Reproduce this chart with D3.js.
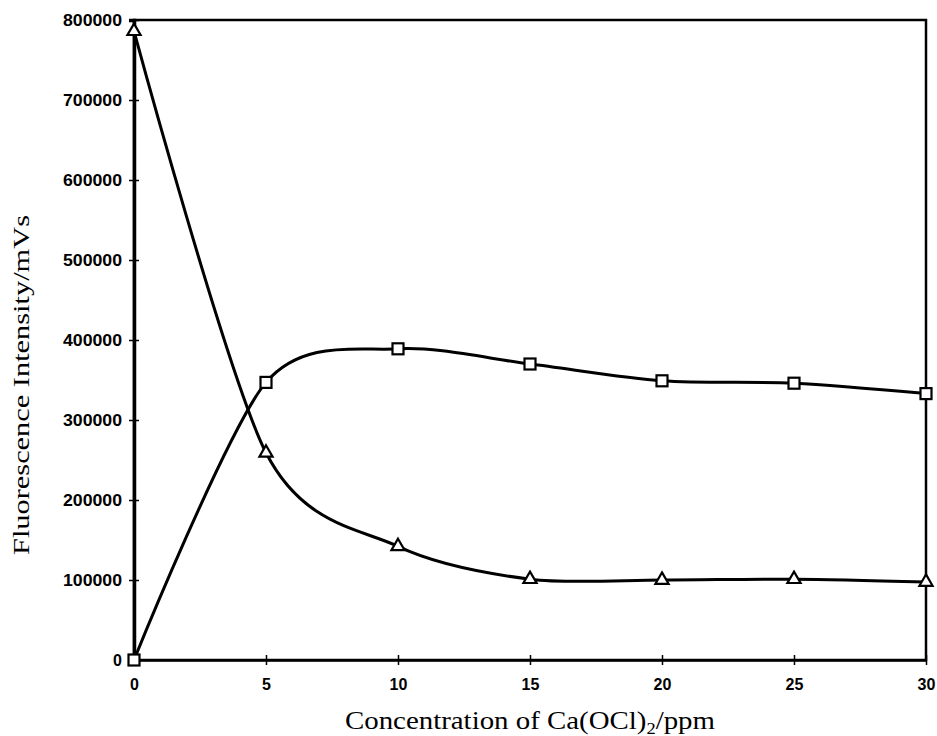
<!DOCTYPE html>
<html>
<head>
<meta charset="utf-8">
<script src="https://cdn.jsdelivr.net/npm/d3@7"></script>
<style>
  html, body { margin: 0; padding: 0; background: #fff; }
  svg { display: block; }
</style>
</head>
<body>
<svg id="chart" width="937" height="736"></svg>
<script>
// Concentration of Ca(OCl)2 (ppm)
const concentration = [0, 5, 10, 15, 20, 25, 30];
// Fluorescence intensity (mVs) for the two species
const squareSeries = [0, 347000, 389000, 370000, 349000, 346000, 333000];
const triangleSeries = [786000, 259000, 142000, 101000, 100000, 101000, 97500];
// Axis ticks
const xTickValues = [0, 5, 10, 15, 20, 25, 30];
const yTickValues = [0, 100000, 200000, 300000, 400000, 500000, 600000, 700000, 800000];

const svg = d3.select("#chart");
const plotLeft = 134, plotRight = 926, plotTop = 20, plotBottom = 660;

const x = d3.scaleLinear().domain([0, 30]).range([plotLeft, plotRight]);
const y = d3.scaleLinear().domain([0, 800000]).range([plotBottom, plotTop]);

// Plot frame
svg.append("rect")
  .attr("x", plotLeft).attr("y", plotTop)
  .attr("width", plotRight - plotLeft).attr("height", plotBottom - plotTop)
  .attr("fill", "none").attr("stroke", "#000").attr("stroke-width", 2.5);

const tickFont = "Liberation Sans, Arial, sans-serif";

// Y axis: ticks crossing the axis line, bold sans labels
const yAxis = d3.axisLeft(y).tickValues(yTickValues).tickSize(5).tickPadding(7)
  .tickFormat(d3.format("d"));
const gy = svg.append("g").attr("transform", `translate(${plotLeft},0)`).call(yAxis);
gy.select(".domain").attr("stroke-width", 3.5);
gy.selectAll(".tick line").attr("x2", 5).attr("x1", -5).attr("stroke-width", 1.5);
gy.selectAll(".tick text")
  .attr("font-family", tickFont)
  .attr("font-weight", "bold")
  .attr("font-size", 16)
  .attr("fill", "#000")
  .attr("dy", "0.36em")
  .attr("textLength", 59)
  .attr("lengthAdjust", "spacingAndGlyphs");
gy.selectAll(".tick").filter(d => d === 0).select("text").attr("textLength", null);

// X axis
const xAxis = d3.axisBottom(x).tickValues(xTickValues).tickSize(0).tickPadding(19)
  .tickFormat(d3.format("d"));
const gx = svg.append("g").attr("transform", `translate(0,${plotBottom})`).call(xAxis);
gx.select(".domain").attr("stroke-width", 2.5);
gx.selectAll(".tick line").attr("y1", -5).attr("y2", 5).attr("stroke-width", 1.5);
gx.selectAll(".tick text")
  .attr("font-family", tickFont)
  .attr("font-weight", "bold")
  .attr("font-size", 16)
  .attr("fill", "#000");

// Axis titles
const titleFont = "Liberation Serif, Times New Roman, serif";
svg.append("text")
  .attr("x", (plotLeft + plotRight) / 2).attr("y", 729)
  .attr("text-anchor", "middle")
  .attr("font-family", titleFont)
  .attr("font-size", 25)
  .attr("fill", "#000")
  .attr("textLength", 370)
  .attr("lengthAdjust", "spacingAndGlyphs")
  .call(t => {
    t.append("tspan").text("Concentration of Ca(OCl)");
    t.append("tspan").attr("font-size", 16).attr("dy", 5).text("2");
    t.append("tspan").attr("dy", -5).text("/ppm");
  });

svg.append("text")
  .attr("transform", `translate(29,385) rotate(-90)`)
  .attr("text-anchor", "middle")
  .attr("font-family", titleFont)
  .attr("font-size", 24)
  .attr("fill", "#000")
  .attr("textLength", 340)
  .attr("lengthAdjust", "spacingAndGlyphs")
  .text("Fluorescence Intensity/mVs");

// Smoothed series lines
const line = d3.line().x(d => x(d[0])).y(d => y(d[1])).curve(d3.curveCardinal.tension(0.15));
const sqData = concentration.map((c, i) => [c, squareSeries[i]]);
const trData = concentration.map((c, i) => [c, triangleSeries[i]]);

svg.append("path").datum(sqData).attr("d", line)
  .attr("fill", "none").attr("stroke", "#000").attr("stroke-width", 3);
svg.append("path").datum(trData).attr("d", line)
  .attr("fill", "none").attr("stroke", "#000").attr("stroke-width", 3);

// Markers
svg.append("g").selectAll("rect").data(sqData).join("rect")
  .attr("x", d => x(d[0]) - 5.5).attr("y", d => y(d[1]) - 5.5)
  .attr("width", 11).attr("height", 11)
  .attr("fill", "#fff").attr("stroke", "#000").attr("stroke-width", 2.2);

const tri = d3.symbol().type(d3.symbolTriangle).size(75);
svg.append("g").selectAll("path").data(trData).join("path")
  .attr("transform", d => `translate(${x(d[0])},${y(d[1])})`)
  .attr("d", tri)
  .attr("fill", "#fff").attr("stroke", "#000").attr("stroke-width", 2.2);
</script>
</body>
</html>
